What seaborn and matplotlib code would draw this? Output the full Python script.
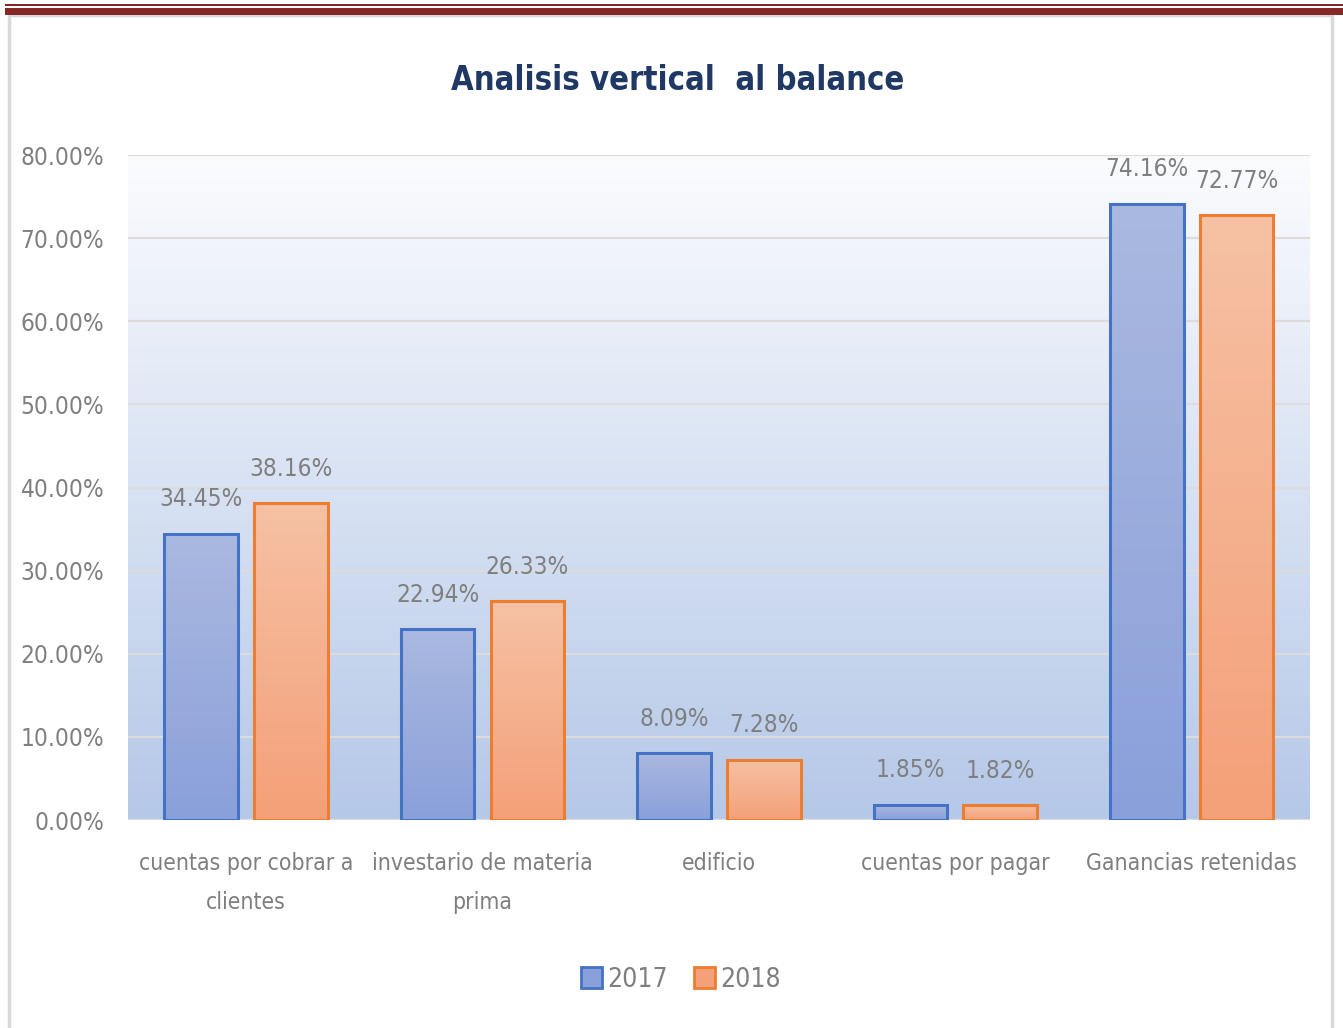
#!/usr/bin/env python3
# -*- coding: utf-8 -*-
"""
plot.py

Vertical balance analysis, 2017 vs 2018, as grouped bars
"""

import matplotlib.pyplot as plt
import matplotlib.patches as mpatches
import matplotlib.ticker as mticker
from matplotlib.colors import LinearSegmentedColormap
import numpy as np
import pandas as pd
import seaborn as sns

# Data
categories = [
    "cuentas por cobrar a\nclientes",
    "investario de materia\nprima",
    "edificio",
    "cuentas por pagar",
    "Ganancias retenidas",
]
years = ["2017", "2018"]
values_2017 = [34.45, 22.94, 8.09, 1.85, 74.16]
values_2018 = [38.16, 26.33, 7.28, 1.82, 72.77]
y_ticks = [0, 10, 20, 30, 40, 50, 60, 70, 80]

edge_colors = {"2017": "#4472c4", "2018": "#ed7d31"}
grad_colors = {"2017": ("#aab9e0", "#8aa0da"), "2018": ("#f6c1a4", "#f4a078")}

df = pd.DataFrame({
    "categoria": categories * 2,
    "año": [years[0]] * len(categories) + [years[1]] * len(categories),
    "valor": values_2017 + values_2018,
})

sns.set_style("white")
plt.rcParams["font.family"] = ["DejaVu Sans"]
plt.rcParams["font.stretch"] = "condensed"

fig = plt.figure(figsize=(13.43, 10.28), dpi=100)
ax = fig.add_axes([0.0953, 0.2023, 0.88, 0.6469])

sns.barplot(
    data=df, x="categoria", y="valor", hue="año",
    palette=edge_colors, width=0.76, gap=0.18, ax=ax, legend=False,
)

ax.set_ylim(0, 80)
ax.set_xlim(-0.5, len(categories) - 0.5)

# Gradient background of the plot area
bg = np.linspace(0, 1, 256).reshape(-1, 1)
bg_cmap = LinearSegmentedColormap.from_list("bg", ["#b5c8e8", "#fbfcfe"])
ax.imshow(bg, cmap=bg_cmap, extent=[0, 1, 0, 1], transform=ax.transAxes,
          aspect="auto", origin="lower", zorder=0)

# Gradient fill inside each bar
for year, container in zip(years, ax.containers):
    cmap = LinearSegmentedColormap.from_list(
        year, [grad_colors[year][1], grad_colors[year][0]])
    for bar in container:
        x0, y0 = bar.get_x(), bar.get_y()
        w, h = bar.get_width(), bar.get_height()
        bar.set_facecolor("none")
        bar.set_edgecolor(edge_colors[year])
        bar.set_linewidth(2.2)
        bar.set_zorder(3)
        im = ax.imshow(bg, cmap=cmap, extent=[x0, x0 + w, y0, y0 + h],
                       aspect="auto", origin="lower", zorder=2)
        im.set_clip_path(bar)
    ax.bar_label(container, fmt="%.2f%%", padding=16, fontsize=17.5,
                 color="#7f7f7f")

ax.set_ylim(0, 80)
ax.set_xlim(-0.5, len(categories) - 0.5)
ax.set_yticks(y_ticks)
ax.yaxis.set_major_formatter(mticker.FuncFormatter(lambda v, p: f"{v:.2f}%"))
ax.grid(axis="y", color="#dcdcdc", linewidth=1.6, zorder=1)
ax.set_axisbelow(True)
for s in ax.spines.values():
    s.set_visible(False)

ax.tick_params(axis="both", length=0, labelsize=17.5, labelcolor="#7f7f7f")
ax.tick_params(axis="x", labelsize=16.5, pad=23)
ax.tick_params(axis="y", pad=17)
for lbl in ax.get_xticklabels():
    lbl.set_linespacing(1.9)
ax.set_xlabel("")
ax.set_ylabel("")

fig.text(0.5045, 0.922, "Analisis vertical  al balance", ha="center",
         va="center", fontsize=23.5, fontweight="bold", color="#1f3864")

# Legend
handles = [
    mpatches.Patch(facecolor=grad_colors[y][1], edgecolor=edge_colors[y],
                   linewidth=2, label=y)
    for y in years
]
fig.legend(handles=handles, loc="center", bbox_to_anchor=(0.507, 0.047),
           ncol=2, frameon=False, fontsize=19, labelcolor="#7f7f7f",
           handlelength=0.8, handleheight=0.8, handletextpad=0.2,
           columnspacing=1.0)

# Chart frame and the dark red header lines
fig.add_artist(mpatches.Rectangle((0.007, -0.01), 0.985, 0.995,
                                  transform=fig.transFigure, fill=False,
                                  edgecolor="#d9d9d9", linewidth=2.5))
fig.add_artist(mpatches.Rectangle((0.004, 0.9942), 0.996, 0.0022,
                                  transform=fig.transFigure,
                                  facecolor="#872828", edgecolor="none"))
fig.add_artist(mpatches.Rectangle((0.004, 0.9855), 0.996, 0.0068,
                                  transform=fig.transFigure,
                                  facecolor="#872828", edgecolor="none"))

fig.savefig("out.png", dpi=100)
